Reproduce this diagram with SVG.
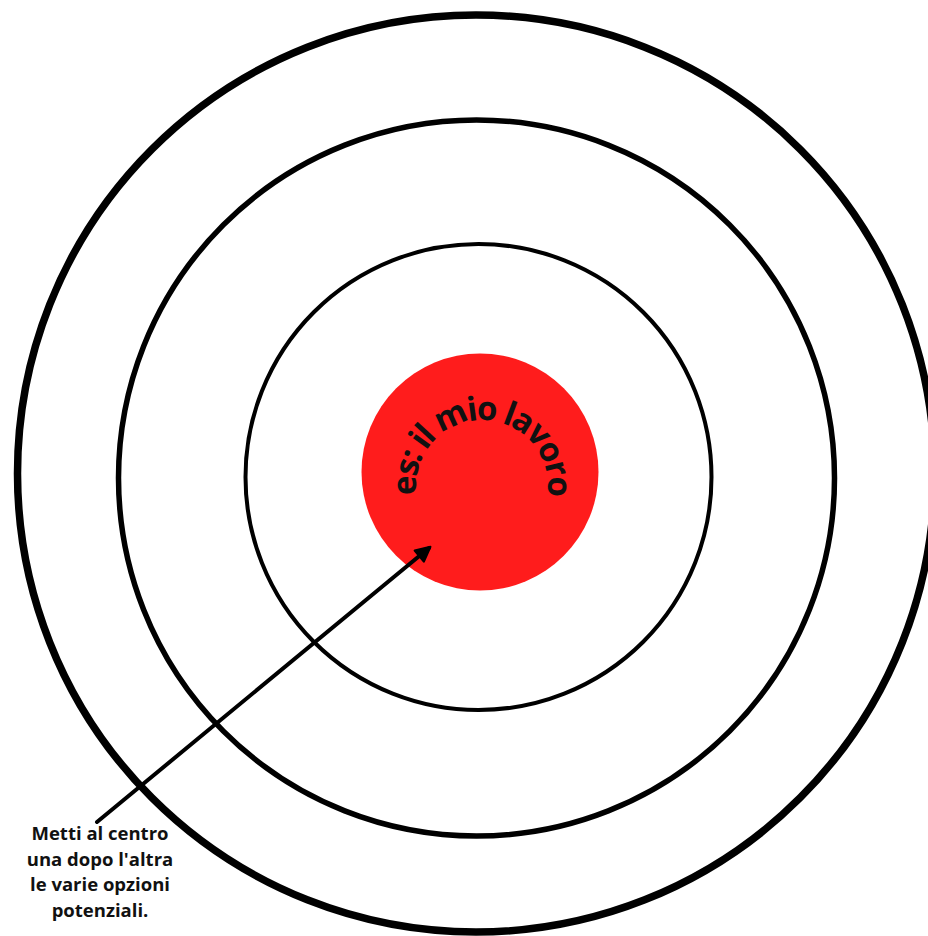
<svg xmlns="http://www.w3.org/2000/svg" width="928" height="936" viewBox="0 0 928 936">
  <style>
    .ring { fill: none; stroke: #000; }
    .label { font-family: "Open Sans", "Noto Sans", "Liberation Sans", sans-serif; font-weight: 700; fill: #111; }
  </style>
  <defs>
    <marker id="arrowhead" viewBox="0 0 10 10" refX="8" refY="5" markerWidth="4.5" markerHeight="4.5" orient="auto" markerUnits="strokeWidth">
      <path d="M1,1 L9,5 L1,9 Z" fill="#000" stroke="#000" stroke-width="1.2" stroke-linejoin="round"/>
    </marker>
    <path id="arcPath" d="M 420,508.6 A 66 66 0 1 1 544,508.6"/>
  </defs>
  <rect width="928" height="936" fill="#fff"/>
  <g id="ring-outer">
    <circle class="ring" cx="476" cy="473.5" r="458.5" stroke-width="7.5"/>
  </g>
  <g id="ring-middle">
    <circle class="ring" cx="476.5" cy="478" r="358" stroke-width="5.5"/>
  </g>
  <g id="ring-inner">
    <circle class="ring" cx="478.5" cy="477" r="233" stroke-width="4"/>
  </g>
  <g id="center">
    <circle cx="480" cy="472" r="118.5" fill="#ff1c1c"/>
    <text class="label" font-size="33" letter-spacing="-2"><textPath href="#arcPath" startOffset="50%" text-anchor="middle">es: il mio lavoro</textPath></text>
  </g>
  <g id="connectors">
    <line x1="97" y1="822" x2="429" y2="548" stroke="#000" stroke-width="4" stroke-linecap="round" marker-end="url(#arrowhead)"/>
  </g>
  <g id="note">
    <text class="label" font-size="18.5" text-anchor="middle"><tspan x="100" y="840">Metti al centro</tspan><tspan x="100" y="865.5">una dopo l'altra</tspan><tspan x="100" y="891">le varie opzioni</tspan><tspan x="100" y="916.5">potenziali.</tspan></text>
  </g>
</svg>
